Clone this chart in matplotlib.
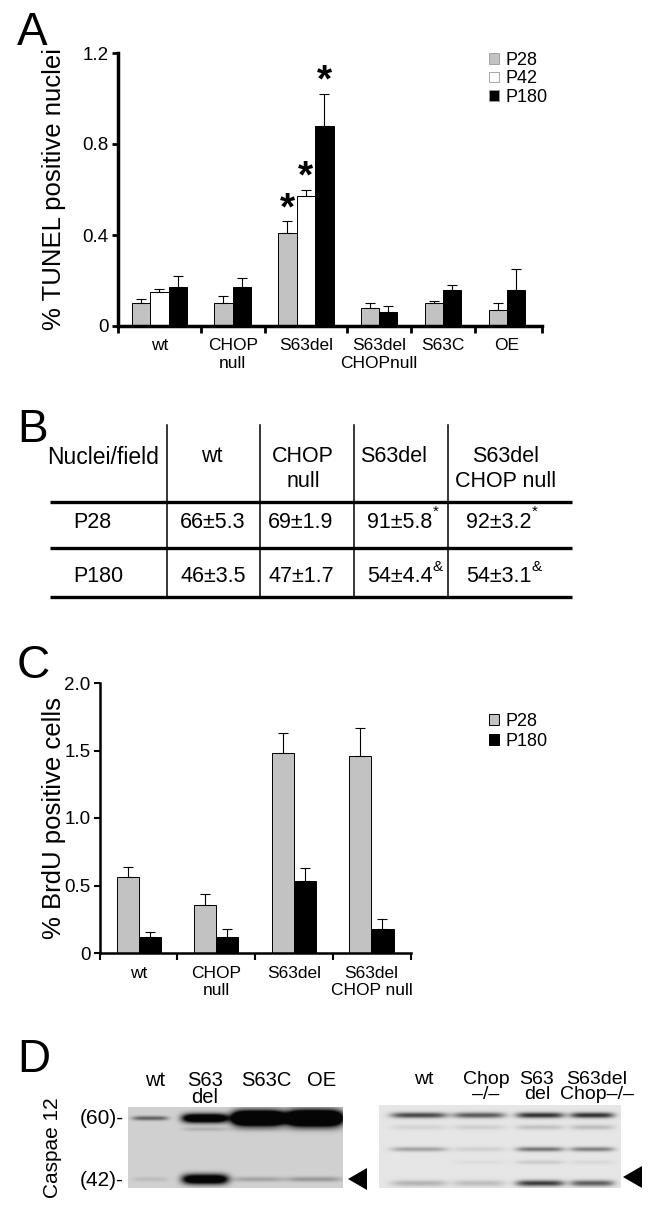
import numpy as np
import matplotlib
matplotlib.use('Agg')
import matplotlib.pyplot as plt

plt.rcParams['font.family'] = ['Liberation Sans', 'DejaVu Sans']

# ---- data ----
# A: TUNEL
tunel_groups = ['wt', 'CHOP\nnull', 'S63del', 'S63del\nCHOPnull', 'S63C', 'OE']
tunel_series = ['P28', 'P42', 'P180']
tunel_p28 = [0.10, 0.10, 0.41, 0.08, 0.10, 0.07]
tunel_p28_err = [0.02, 0.03, 0.05, 0.02, 0.01, 0.03]
tunel_p42 = [0.148, np.nan, 0.57, np.nan, np.nan, np.nan]
tunel_p42_err = [0.013, np.nan, 0.03, np.nan, np.nan, np.nan]
tunel_p180 = [0.17, 0.17, 0.88, 0.06, 0.16, 0.16]
tunel_p180_err = [0.05, 0.04, 0.14, 0.03, 0.02, 0.09]
tunel_star_group = 'S63del'

# B: nuclei per field
nuc_header = ['Nuclei/field', 'wt', 'CHOP\nnull', 'S63del', 'S63del\nCHOP null']
nuc_rows = ['P28', 'P180']
nuc_mean = [[66, 69, 91, 92], [46, 47, 54, 54]]
nuc_sem = [[5.3, 1.9, 5.8, 3.2], [3.5, 1.7, 4.4, 3.1]]
nuc_mark = [['', '', '*', '*'], ['', '', '&', '&']]

# C: BrdU
brdu_groups = ['wt', 'CHOP\nnull', 'S63del', 'S63del\nCHOP null']
brdu_series = ['P28', 'P180']
brdu_p28 = [0.565, 0.356, 1.48, 1.46]
brdu_p28_err = [0.07, 0.08, 0.15, 0.21]
brdu_p180 = [0.116, 0.116, 0.53, 0.175]
brdu_p180_err = [0.04, 0.06, 0.10, 0.08]

# D: caspase 12 blots (band darkness per band row x lane)
blot1_lanes = ['wt', 'S63\ndel', 'S63C', 'OE']
blot1_bands = [[0.55, 1.6, 2.6, 2.6],
               [0.0, 0.15, 0.08, 0.05],
               [0.10, 1.5, 0.22, 0.28]]
blot2_lanes = ['wt', 'Chop\n\u2013/\u2013', 'S63\ndel', 'S63del\nChop\u2013/\u2013']
blot2_bands = [[0.70, 0.62, 0.80, 0.80],
               [0.08, 0.10, 0.16, 0.18],
               [0.30, 0.10, 0.50, 0.45],
               [0.0, 0.04, 0.12, 0.06],
               [0.22, 0.18, 0.75, 0.60]]
marker_labels = ['(60)-', '(42)-']

# ---- layout ----
W, H = 648, 1212
colors = {'P28': '#c2c2c2', 'P42': 'white', 'P180': 'black'}


def box(x0, y0, x1, y1):
    return [x0 / W, 1 - y1 / H, (x1 - x0) / W, (y1 - y0) / H]


def place(groups, series_vals, start, gap, end):
    # sequential bar positions, skipping missing values
    pos = start
    xs = {k: [] for k in series_vals}
    centers, bounds = [], [0]
    for gi in range(len(groups)):
        g0 = pos
        for k, v in series_vals.items():
            if not np.isnan(v[gi]):
                xs[k].append((gi, pos + 0.5))
                pos += 1
        centers.append((g0 + pos) / 2)
        if gi < len(groups) - 1:
            bounds.append(pos + gap / 2)
            pos += gap
    total = pos + end
    bounds.append(total)
    return xs, centers, bounds, total


def bar_panel(ax, groups, vals, errs, start, gap, end, spine_w, tick_w):
    xs, centers, bounds, total = place(groups, vals, start, gap, end)
    handles = []
    for k in vals:
        gi = [g for g, x in xs[k]]
        x = [x for g, x in xs[k]]
        h = [vals[k][g] for g in gi]
        e = [errs[k][g] for g in gi]
        b = ax.bar(x, h, width=1.0, color=colors[k], edgecolor='black', linewidth=0.7,
                   yerr=[np.zeros(len(e)), e],
                   error_kw=dict(elinewidth=0.8, capsize=3.5, capthick=0.8, ecolor='black'),
                   label=k)
        handles.append(b)
    ax.set_xlim(0, total)
    ax.set_xticks(bounds)
    ax.set_xticklabels([])
    ax.set_xticks(centers, minor=True)
    ax.set_xticklabels(groups, minor=True, fontsize=12.5)
    ax.tick_params(axis='x', which='minor', length=0, pad=9)
    ax.tick_params(axis='x', which='major', length=5, width=tick_w, direction='out')
    ax.tick_params(axis='y', length=4, width=tick_w, direction='out', labelsize=13.5, pad=3)
    for s in ['top', 'right']:
        ax.spines[s].set_visible(False)
    for s in ['left', 'bottom']:
        ax.spines[s].set_linewidth(spine_w)
    ax.set_facecolor('none')
    return xs, handles


fig = plt.figure(figsize=(W / 100, H / 100), dpi=100)
canvas = fig.add_axes([0, 0, 1, 1])
canvas.set_xlim(0, W)
canvas.set_ylim(H, 0)
canvas.axis('off')

for letter, yb in zip('ABCD', [45, 442, 678, 1072]):
    canvas.text(17, yb, letter, fontsize=33, va='baseline', ha='left')

# ---- A ----
axA = fig.add_axes(box(118, 53, 542, 326))
valsA = {'P28': tunel_p28, 'P42': tunel_p42, 'P180': tunel_p180}
errsA = {'P28': tunel_p28_err, 'P42': tunel_p42_err, 'P180': tunel_p180_err}
xsA, hA = bar_panel(axA, tunel_groups, valsA, errsA, 0.75, 1.47, 0.9, 2.5, 2)
axA.set_ylim(0, 1.2)
axA.set_yticks([0, 0.4, 0.8, 1.2])
axA.set_yticklabels(['0', '0.4', '0.8', '1.2'])
axA.set_ylabel('% TUNEL positive nuclei', fontsize=18.5)
axA.yaxis.set_label_coords(-0.122, 0.5)
gs = tunel_groups.index(tunel_star_group)
for k in tunel_series:
    for g, x in xsA[k]:
        if g == gs:
            axA.text(x, valsA[k][g] + errsA[k][g] + 0.01, '*', fontsize=28,
                     fontweight='bold', ha='center', va='baseline')
legA = axA.legend(handles=hA, loc='upper left', bbox_to_anchor=(489 / W, 1 - 52 / H),
                  bbox_transform=fig.transFigure, frameon=False, fontsize=13,
                  handlelength=0.55, handleheight=0.55, handletextpad=0.35,
                  labelspacing=0.08, borderpad=0, borderaxespad=0)
for p in legA.get_patches():
    p.set_edgecolor('#999999')
    p.set_linewidth(0.6)

# ---- B ----
col_lines = [167, 260, 354, 448]
for x in col_lines:
    canvas.plot([x, x], [425, 598], color='black', lw=1.1)
for y in [502, 548, 597]:
    canvas.plot([50, 572], [y, y], color='black', lw=2.4, solid_capstyle='butt')
header_x = [103, 212, 303, 394, 506]
header_fs = [16.5, 15.5, 15.5, 15.5, 15.5]
for x, t, fs in zip(header_x, nuc_header, header_fs):
    canvas.text(x, 446, t, fontsize=fs, ha='center', va='top', linespacing=1.22)
row_y = [522, 577]
cell_x = [213, 301, 400, 499]
for r, y in enumerate(row_y):
    canvas.text(73, y, nuc_rows[r], fontsize=15.5, ha='left', va='center')
    for c, x in enumerate(cell_x):
        t = canvas.text(x, y, f'{nuc_mean[r][c]}\u00b1{nuc_sem[r][c]:.1f}', fontsize=15.5,
                        ha='center', va='center')
        if nuc_mark[r][c]:
            canvas.annotate(nuc_mark[r][c], xy=(1.0, 0.98), xycoords=t, fontsize=11,
                            ha='left', va='center')

# ---- C ----
axC = fig.add_axes(box(100, 683, 411, 953))
valsC = {'P28': brdu_p28, 'P180': brdu_p180}
errsC = {'P28': brdu_p28_err, 'P180': brdu_p180_err}
xsC, hC = bar_panel(axC, brdu_groups, valsC, errsC, 0.75, 1.51, 0.79, 1.8, 1.5)
axC.set_ylim(0, 2.0)
axC.set_yticks([0, 0.5, 1.0, 1.5, 2.0])
axC.set_yticklabels(['0', '0.5', '1.0', '1.5', '2.0'])
axC.set_ylabel('% BrdU positive cells', fontsize=18.5)
axC.yaxis.set_label_coords(-0.11, 0.5)
axC.legend(handles=hC, loc='upper left', bbox_to_anchor=(489 / W, 1 - 713 / H),
           bbox_transform=fig.transFigure, frameon=False, fontsize=13,
           handlelength=0.55, handleheight=0.55, handletextpad=0.35,
           labelspacing=0.15, borderpad=0, borderaxespad=0)


# ---- D ----
def blot(x0, x1, y0, y1, bg, lane_x, lane_hw, band_y, band_sy, dark):
    xs = np.arange(x0, x1, 0.5)
    ys = np.arange(y0, y1, 0.5)
    X, Y = np.meshgrid(xs, ys)
    img = np.zeros_like(X)
    for bi, yb in enumerate(band_y):
        for li, xc in enumerate(lane_x):
            d = dark[bi][li]
            if d <= 0:
                continue
            px = np.exp(-np.abs((X - xc) / lane_hw[li]) ** 5)
            py = np.exp(-((Y - yb) / band_sy[bi][li]) ** 2)
            img += d * px * py
    img = bg * (1 - np.clip(img, 0, 0.97))
    canvas.imshow(img, cmap='gray', vmin=0, vmax=1, extent=(x0, x1, y1, y0),
                  interpolation='bilinear', aspect='auto')


blot(128, 343, 1107, 1188, 0.82, [150, 205, 258, 314], [18, 23, 26, 28],
     [1118, 1129, 1179],
     [[2.2, 4.5, 7, 7.5], [2, 2, 2, 2], [2.5, 5, 2.5, 2.5]], blot1_bands)
blot(379, 621, 1105, 1188, 0.90, [419, 479, 540, 592], [28, 26, 24, 22],
     [1115, 1127, 1149, 1162, 1183],
     [[2.8] * 4, [2.5] * 4, [2.3] * 4, [2] * 4, [3] * 4], blot2_bands)
canvas.set_xlim(0, W)
canvas.set_ylim(H, 0)

for x, t in zip([155, 205, 266, 322], blot1_lanes):
    canvas.text(x, 1071, t, fontsize=14.5, ha='center', va='top', linespacing=0.85)
for x, t in zip([424, 486, 537, 597], blot2_lanes):
    canvas.text(x, 1071, t, fontsize=14, ha='center', va='top', linespacing=0.85)
for y, t in zip([1119, 1180], marker_labels):
    canvas.text(124, y, t, fontsize=15, ha='right', va='center')
canvas.text(53, 1148, 'Caspae 12', fontsize=15, rotation=90, ha='center', va='center')
canvas.fill([348, 367, 367], [1179, 1168, 1190], color='black', lw=0)
canvas.fill([623, 642, 642], [1177, 1166, 1188], color='black', lw=0)

fig.savefig('out.png', dpi=100)
